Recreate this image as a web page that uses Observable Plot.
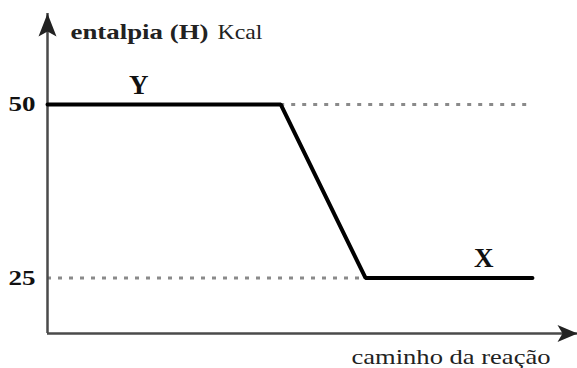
<!DOCTYPE html>
<html><head><meta charset="utf-8">
<script src="https://cdn.jsdelivr.net/npm/d3@7"></script>
<script src="https://cdn.jsdelivr.net/npm/@observablehq/plot@0.6"></script>
<style>body{margin:0;background:#fff}</style>
</head><body><div id="chart"></div>
<script>
// Reaction path (x: progress 0-100, h: enthalpy in Kcal)
const pathX = [0, 44, 60, 91.5];
const pathH = [50, 50, 25, 25];
// Enthalpy levels and their tick labels
const levels = [50, 25];
const tickLabels = ["50", "25"];
// Dotted guide lines at each level
const guideFrom = [44, 0];
const guideTo = [90.5, 60];
// State labels
const stateNames = ["Y", "X"];
const stateX = [17.2, 82.3];
const stateH = [52.7, 27.8];
// Axis extents
const xExtent = [0, 100];
const hExtent = [17, 63.1];
const titleBold = "entalpia (H)";
const titleUnit = "Kcal";
const caption = "caminho da reação";

const serif = "Liberation Serif";
const path = pathX.map((x, i) => ({x, h: pathH[i]}));
const guides = levels.map((h, i) => ({h, x1: guideFrom[i], x2: guideTo[i]}));
const states = stateNames.map((s, i) => ({s, x: stateX[i], h: stateH[i]}));

const arrowUp = {draw(ctx) { ctx.moveTo(0, 0); ctx.lineTo(9, 23); ctx.lineTo(0, 18); ctx.lineTo(-9, 23); ctx.closePath(); }};
const arrowRight = {draw(ctx) { ctx.moveTo(0, 0); ctx.lineTo(-20, 8.5); ctx.lineTo(-15, 0); ctx.lineTo(-20, -8.5); ctx.closePath(); }};

const svg = Plot.plot({
  width: 577, height: 368,
  marginLeft: 47, marginRight: 0, marginTop: 13, marginBottom: 35,
  style: {fontFamily: serif, background: "#fff", color: "#111"},
  x: {domain: xExtent, axis: null},
  y: {domain: hExtent, axis: null},
  marks: [
    Plot.ruleY(guides, {y: "h", x1: "x1", x2: "x2", stroke: "#8a8a8a", strokeWidth: 3, strokeDasharray: "4,7"}),
    Plot.ruleX([xExtent[0]], {y1: hExtent[0], y2: hExtent[1], stroke: "#4a4a4a", strokeWidth: 2.5}),
    Plot.ruleY([hExtent[0]], {x1: xExtent[0], x2: xExtent[1], stroke: "#4a4a4a", strokeWidth: 2.5}),
    Plot.dot([{x: xExtent[0], h: hExtent[1]}], {x: "x", y: "h", symbol: arrowUp, fill: "#222", stroke: "none"}),
    Plot.dot([{x: xExtent[1], h: hExtent[0]}], {x: "x", y: "h", symbol: arrowRight, fill: "#222", stroke: "none"}),
    Plot.line(path, {x: "x", y: "h", stroke: "#000", strokeWidth: 4, strokeLinejoin: "miter"}),
    Plot.axisY(levels, {anchor: "left", tickSize: 0, tickPadding: 12, label: null,
      tickFormat: d => tickLabels[levels.indexOf(d)], fontSize: 22, fontWeight: "bold", fill: "#111", fontFamily: serif}),
    Plot.text(states, {x: "x", y: "h", text: "s", fontSize: 27, fontWeight: "bold", fill: "#111", lineAnchor: "middle", fontFamily: serif}),
    Plot.text([titleBold], {frameAnchor: "top-left", textAnchor: "start", lineAnchor: "bottom", dx: 23, dy: 25,
      fontSize: 21, fontWeight: "bold", fill: "#222", fontFamily: serif}),
    Plot.text([titleUnit], {frameAnchor: "top-left", textAnchor: "start", lineAnchor: "bottom", dx: 170, dy: 25,
      fontSize: 21, fill: "#222", fontFamily: serif}),
    Plot.text([caption], {frameAnchor: "bottom-right", textAnchor: "end", lineAnchor: "bottom", dx: -27, dy: 30,
      fontSize: 22, fill: "#222", fontFamily: serif})
  ]
});

// widen text horizontally like the source drawing
const textWidths = {"entalpia (H)": 138, "Kcal": 45, "caminho da reação": 199, "50": 27, "25": 27};
d3.select(svg).selectAll("text").each(function() {
  const w = textWidths[this.textContent];
  if (w) { this.setAttribute("textLength", w); this.setAttribute("lengthAdjust", "spacingAndGlyphs"); }
});
document.getElementById("chart").appendChild(svg);
</script>
</body></html>
